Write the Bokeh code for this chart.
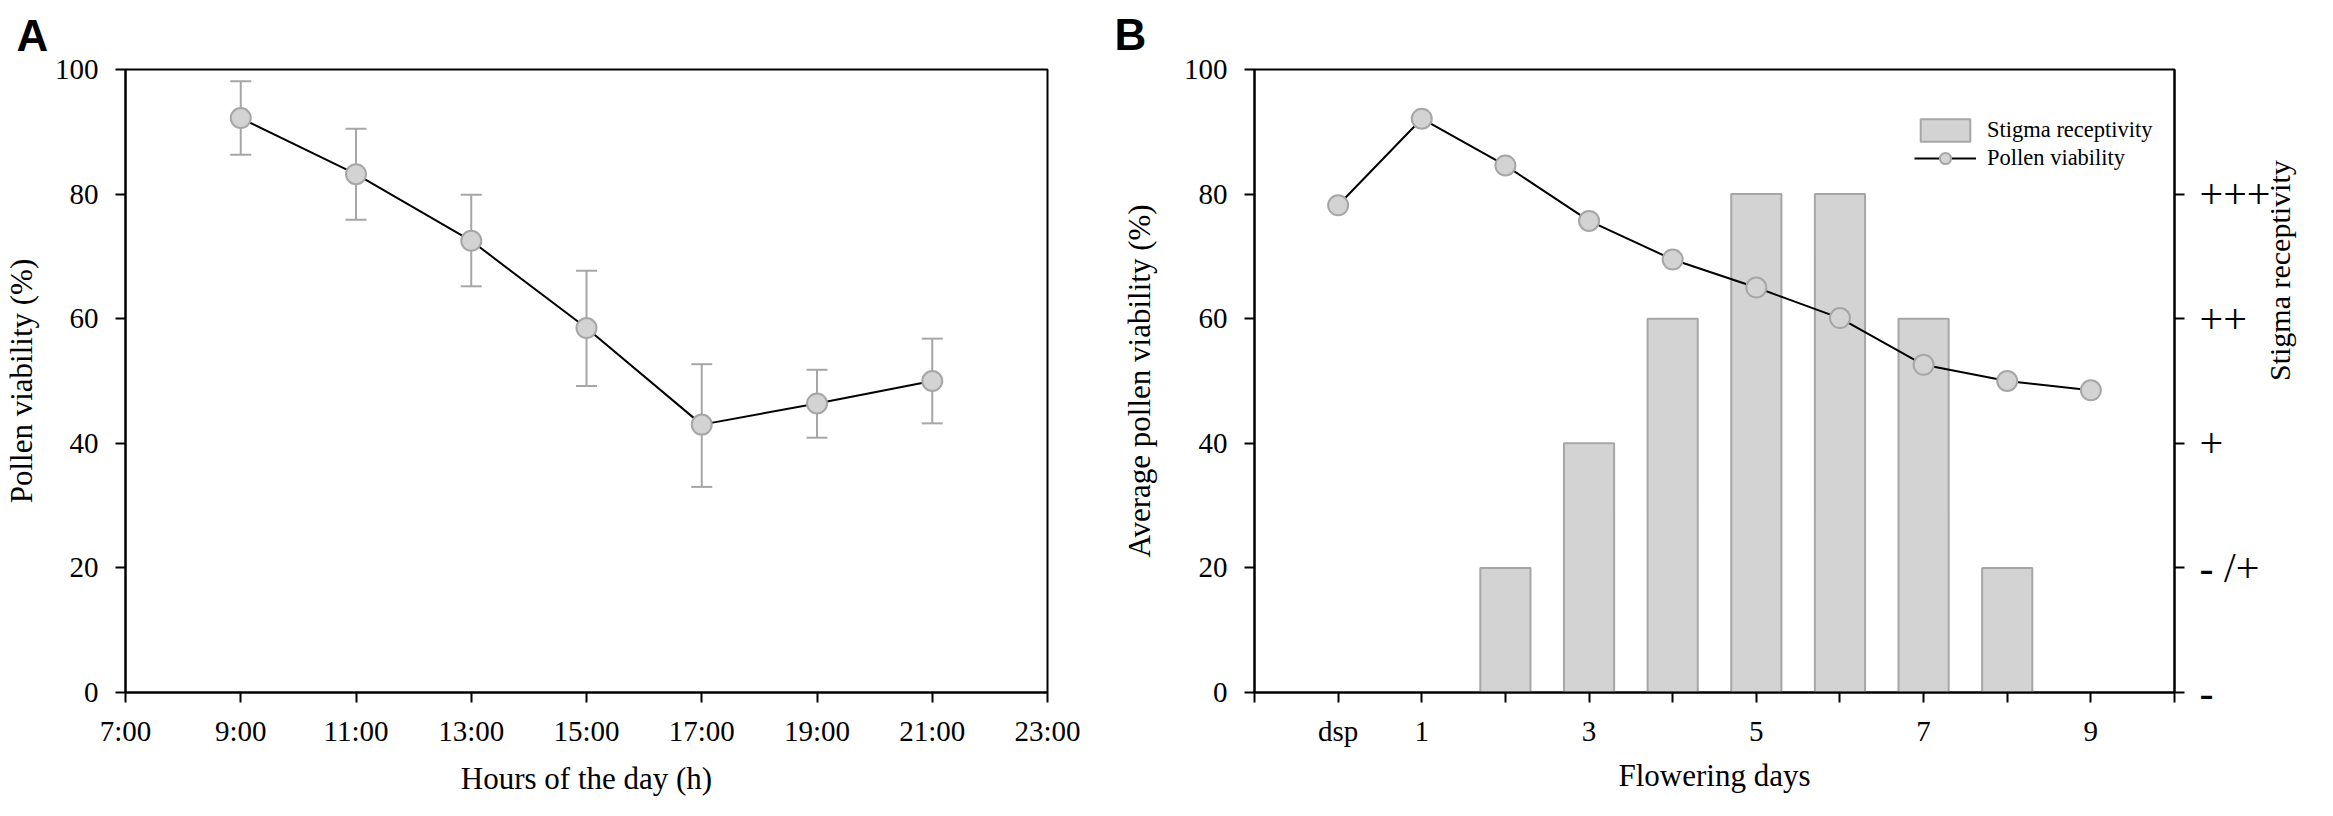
import math
from bokeh.plotting import figure
from bokeh.layouts import row
from bokeh.models import (ColumnDataSource, Whisker, TeeHead, FixedTicker, LinearAxis,
                          Range1d, Legend, LegendItem)
from bokeh.embed import file_html
from bokeh.resources import INLINE

# ---------------- Panel A data ----------------
hours = [9, 11, 13, 15, 17, 19, 21]
hour_tick_values = [7, 9, 11, 13, 15, 17, 19, 21, 23]
hour_tick_labels = ["7:00", "9:00", "11:00", "13:00", "15:00", "17:00", "19:00", "21:00", "23:00"]
viability_a = [92.2, 83.2, 72.5, 58.5, 43.0, 46.4, 50.0]
error_upper = [98.1, 90.5, 79.9, 67.7, 52.7, 51.8, 56.8]
error_lower = [86.3, 75.9, 65.2, 49.2, 33.0, 40.9, 43.2]
y_ticks = [0, 20, 40, 60, 80, 100]

# ---------------- Panel B data ----------------
day_labels = ["dsp", "1", "2", "3", "4", "5", "6", "7", "8", "9"]
shown_day_labels = ["dsp", "1", "3", "5", "7", "9"]
viability_b = [78.2, 92.1, 84.6, 75.7, 69.5, 65.0, 60.1, 52.6, 50.0, 48.5]
stigma_days = ["2", "3", "4", "5", "6", "7", "8"]
stigma_level = [1, 2, 3, 4, 4, 3, 1]
receptivity_labels = ["-", "- /+", "+", "++", "+++"]

SERIF = "Liberation Serif"
GREY_FILL = "#d3d3d3"
GREY_LINE = "#a6a6a6"


def style_axis(ax, standoff=17, label_standoff=14):
    ax.axis_line_width = 2
    ax.axis_line_color = "black"
    ax.major_tick_line_width = 2
    ax.major_tick_line_color = "black"
    ax.major_tick_out = 10
    ax.major_tick_in = 0
    ax.minor_tick_line_color = None
    ax.major_label_text_font = SERIF
    ax.major_label_text_font_size = "29px"
    ax.major_label_text_color = "black"
    ax.major_label_standoff = standoff
    ax.axis_label_text_font = SERIF
    ax.axis_label_text_font_size = "31px"
    ax.axis_label_text_font_style = "normal"
    ax.axis_label_text_color = "black"
    ax.axis_label_standoff = label_standoff


def style_title(p, text, offset, standoff):
    p.title.text = text
    p.title.align = "left"
    p.title.vertical_align = "top"
    p.title.offset = offset
    p.title.standoff = standoff
    p.title.text_font = "Liberation Sans"
    p.title.text_font_size = "44px"
    p.title.text_font_style = "bold"
    p.title.text_color = "black"


# ================= Panel A =================
pa = figure(width=1114, height=800, x_range=Range1d(7, 23), y_range=Range1d(0, 100),
            output_backend="svg", toolbar_location=None,
            min_border_left=119, min_border_right=67, min_border_top=65, min_border_bottom=108)
pa.grid.visible = False
pa.outline_line_color = "black"
pa.outline_line_width = 2
pa.background_fill_color = "white"
pa.border_fill_color = "white"
style_title(pa, "A", -109, 16)

src_a = ColumnDataSource(dict(x=hours, y=viability_a, upper=error_upper, lower=error_lower))
whisk = Whisker(source=src_a, base="x", upper="upper", lower="lower",
                line_color=GREY_LINE, line_width=2, level="underlay",
                upper_head=TeeHead(size=21, line_color=GREY_LINE, line_width=2),
                lower_head=TeeHead(size=21, line_color=GREY_LINE, line_width=2))
pa.add_layout(whisk)
pa.line("x", "y", source=src_a, line_color="black", line_width=2)
pa.scatter("x", "y", source=src_a, size=20, fill_color=GREY_FILL,
           line_color=GREY_LINE, line_width=2)

pa.xaxis.ticker = FixedTicker(ticks=hour_tick_values)
pa.xaxis.major_label_overrides = dict(zip(hour_tick_values, hour_tick_labels))
pa.yaxis.ticker = FixedTicker(ticks=y_ticks)
pa.xaxis.axis_label = "Hours of the day (h)"
pa.yaxis.axis_label = "Pollen viability (%)"
for ax in pa.xaxis:
    style_axis(ax, standoff=12, label_standoff=11)
for ax in pa.yaxis:
    style_axis(ax, standoff=17, label_standoff=13)

# ================= Panel B =================
n_days = len(day_labels)
pb = figure(width=1211, height=800, x_range=Range1d(-1, n_days), y_range=Range1d(0, 100),
            output_backend="svg", toolbar_location=None,
            min_border_left=140, min_border_right=151, min_border_top=68, min_border_bottom=104)
pb.grid.visible = False
pb.outline_line_color = "black"
pb.outline_line_width = 2
pb.background_fill_color = "white"
pb.border_fill_color = "white"
pb.extra_y_ranges = {"rec": Range1d(0, len(receptivity_labels))}
style_title(pb, "B", -140, 18)

bar_x = [day_labels.index(d) for d in stigma_days]
src_bar = ColumnDataSource(dict(x=bar_x, top=stigma_level))
bars = pb.vbar(x="x", top="top", bottom=0, width=0.6, source=src_bar, y_range_name="rec",
               fill_color=GREY_FILL, line_color=GREY_LINE, line_width=2)

src_b = ColumnDataSource(dict(x=list(range(n_days)), y=viability_b))
line_b = pb.line("x", "y", source=src_b, line_color="black", line_width=2)
pts_b = pb.scatter("x", "y", source=src_b, size=20, fill_color=GREY_FILL,
                   line_color=GREY_LINE, line_width=2)

x_ticks_b = list(range(-1, n_days + 1))
overrides_b = {}
for t in x_ticks_b:
    lab = day_labels[t] if 0 <= t < n_days else ""
    overrides_b[t] = lab if lab in shown_day_labels else ""
pb.xaxis.ticker = FixedTicker(ticks=x_ticks_b)
pb.xaxis.major_label_overrides = overrides_b
pb.yaxis.ticker = FixedTicker(ticks=y_ticks)
pb.xaxis.axis_label = "Flowering days"
pb.yaxis.axis_label = "Average pollen viability (%)"
for ax in pb.xaxis:
    style_axis(ax, standoff=12, label_standoff=8)
for ax in pb.yaxis:
    style_axis(ax, standoff=17, label_standoff=24)

rec_ticks = list(range(len(receptivity_labels)))
raxis = LinearAxis(y_range_name="rec", ticker=FixedTicker(ticks=rec_ticks),
                   major_label_overrides=dict(zip(rec_ticks, receptivity_labels)),
                   axis_label="Stigma receptivity")
style_axis(raxis, standoff=15, label_standoff=6)
raxis.major_label_text_font_size = "42px"
raxis.axis_label_text_font_size = "30px"
raxis.axis_label_orientation = math.pi / 2
pb.add_layout(raxis, "right")

legend = Legend(items=[LegendItem(label="Stigma receptivity", renderers=[bars]),
                       LegendItem(label="Pollen viability", renderers=[line_b, pts_b])],
                location=(660, 520), orientation="vertical",
                border_line_color=None, background_fill_alpha=0,
                label_text_font=SERIF, label_text_font_size="22.5px",
                label_text_color="black",
                glyph_width=62, glyph_height=28, label_standoff=11,
                spacing=0, padding=10, margin=0)
pb.add_layout(legend)

layout = row(pa, pb)
open("out.html", "w").write(file_html(layout, INLINE))
